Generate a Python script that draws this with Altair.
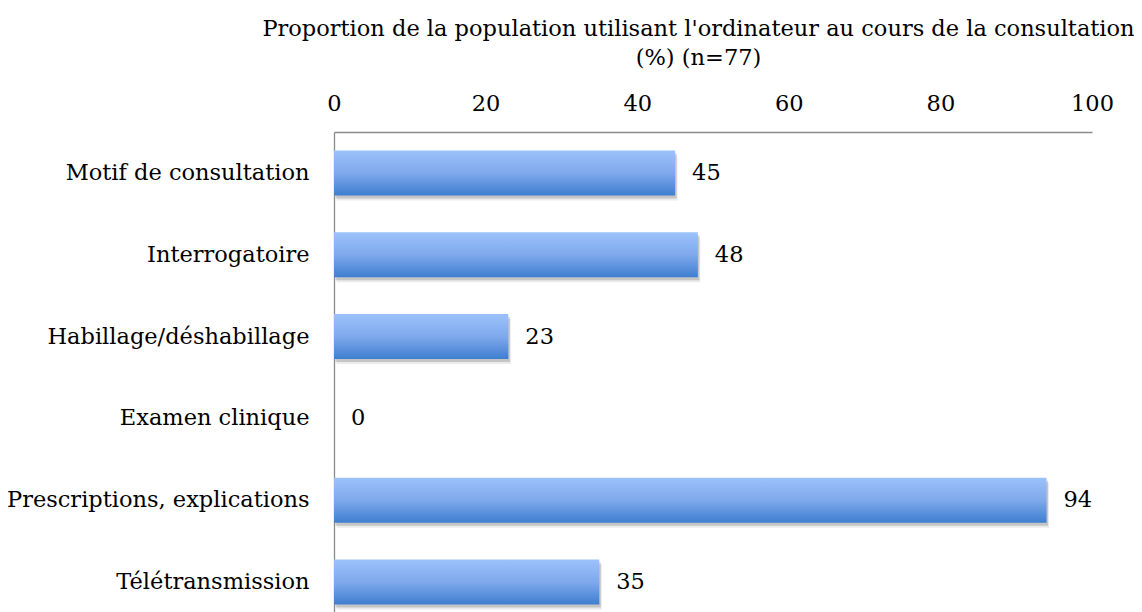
import altair as alt
import pandas as pd

categories = [
    "Motif de consultation",
    "Interrogatoire",
    "Habillage/déshabillage",
    "Examen clinique",
    "Prescriptions, explications",
    "Télétransmission",
]
values = [45, 48, 23, 0, 94, 35]
tick_values = [0, 20, 40, 60, 80, 100]
title_lines = [
    "Proportion de la population utilisant l'ordinateur au cours de la consultation",
    "(%) (n=77)",
]

df = pd.DataFrame({"cat": categories, "val": values})

FONT = "DejaVu Serif"
FS = 22.5
AXIS_COLOR = "#8a8a8a"

x_enc = alt.X(
    "val:Q",
    scale=alt.Scale(domain=[0, 100], nice=False),
    axis=alt.Axis(
        orient="top",
        values=tick_values,
        title=title_lines,
        titleFont=FONT,
        titleFontSize=FS,
        titleFontWeight="normal",
        titleColor="black",
        titleAlign="center",
        titleAnchor="start",
        titleBaseline="alphabetic",
        titleX=364,
        titleY=-97,
        titleLineHeight=29,
        labelFont=FONT,
        labelFontSize=FS,
        labelColor="black",
        labelBaseline="alphabetic",
        labelPadding=22,
        ticks=False,
        tickSize=0,
        grid=False,
        domainColor=AXIS_COLOR,
        domainWidth=1.3,
        labelFlush=False,
    ),
)
y_enc = alt.Y(
    "cat:N",
    sort=categories,
    scale=alt.Scale(paddingInner=0.45, paddingOuter=0.225),
    axis=alt.Axis(
        title=None,
        labelFont=FONT,
        labelFontSize=FS,
        labelColor="black",
        labelPadding=25,
        ticks=False,
        tickSize=0,
        grid=False,
        domainColor=AXIS_COLOR,
        domainWidth=1.3,
        labelLimit=400,
    ),
)

base = alt.Chart(df)

shadow = base.mark_bar(color="#000000", opacity=0.16, yOffset=3, xOffset=1.5).encode(x=x_enc, y=y_enc)
shadow2 = base.mark_bar(color="#000000", opacity=0.08, yOffset=5, xOffset=2.5).encode(x=x_enc, y=y_enc)

bars = base.mark_bar(
    color=alt.Gradient(
        gradient="linear",
        x1=0, y1=0, x2=0, y2=1,
        stops=[
            alt.GradientStop(color="#9cc2fb", offset=0),
            alt.GradientStop(color="#7fa9ec", offset=0.5),
            alt.GradientStop(color="#3e7ed0", offset=1),
        ],
    )
).encode(x=x_enc, y=y_enc)

labels = base.mark_text(
    align="left", baseline="middle", dx=17, font=FONT, fontSize=FS, color="black"
).encode(x=alt.X("val:Q"), y=alt.Y("cat:N", sort=categories), text="val:Q")

chart = (
    alt.layer(shadow2, shadow, bars, labels)
    .properties(
        width=758,
        height=491,
        padding={"left": 326, "top": 124, "right": 42, "bottom": 0},
        autosize=alt.AutoSizeParams(type="none"),
    )
    .configure_view(stroke=None)
)

chart.save("out.html", embed_options={"renderer": "svg", "actions": False})
